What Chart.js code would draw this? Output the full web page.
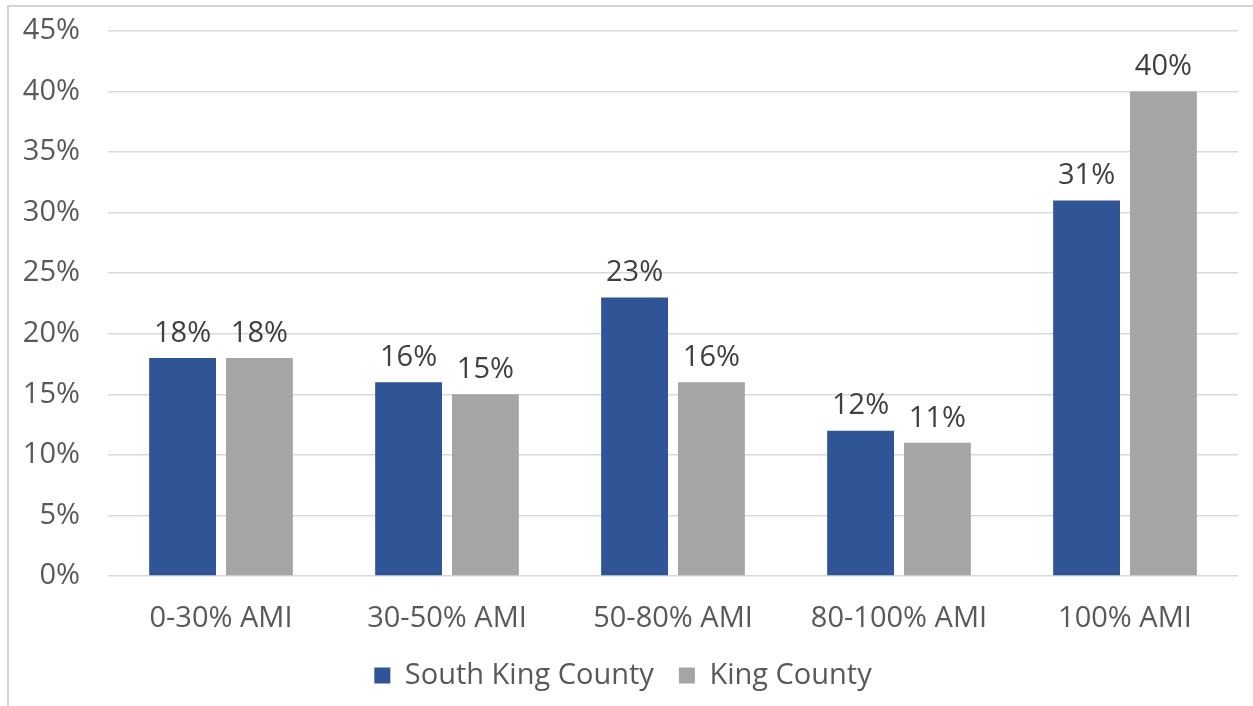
<!DOCTYPE html>
<html>
<head>
<meta charset="utf-8">
<script src="https://cdn.jsdelivr.net/npm/chart.js@4/dist/chart.umd.min.js"></script>
<style>
  html, body { margin: 0; padding: 0; background: #fff; }
  #wrap { position: relative; width: 1253px; height: 706px; }
  #frame { position: absolute; left: 7px; top: 5px; right: -2px; bottom: -2px;
           border-left: 2px solid #d4d4d4; border-top: 2px solid #d4d4d4; }
  canvas { position: absolute; left: 0; top: 0; }
</style>
</head>
<body>
<div id="wrap">
  <div id="frame"></div>
  <canvas id="chartAmi" width="1253" height="706"></canvas>
</div>
<script>
//* DATOS
const categorias = ['0-30% AMI', '30-50% AMI', '50-80% AMI', '80-100% AMI', '100% AMI'];
const southKing = [18, 16, 23, 12, 31];
const kingCounty = [18, 15, 16, 11, 40];
const ticksY = [0, 5, 10, 15, 20, 25, 30, 35, 40, 45];

const fuente = "'Open Sans', 'Liberation Sans', sans-serif";

// etiquetas encima de cada barra
const etiquetas = {
    id: 'etiquetas',
    afterDatasetsDraw(chart) {
        const ctx = chart.ctx;
        ctx.save();
        ctx.font = '29px ' + fuente;
        ctx.fillStyle = '#404040';
        ctx.textAlign = 'center';
        ctx.textBaseline = 'bottom';
        chart.data.datasets.forEach((ds, i) => {
            chart.getDatasetMeta(i).data.forEach((bar, j) => {
                ctx.fillText(ds.data[j] + '%', bar.x, bar.y - 10);
            });
        });
        ctx.restore();
    }
};

new Chart(document.getElementById('chartAmi'), {
    type: 'bar',
    data: {
        labels: categorias,
        datasets: [{
            label: 'South King County',
            data: southKing,
            backgroundColor: '#2F5597'
        }, {
            label: 'King County',
            data: kingCounty,
            backgroundColor: '#A5A5A5'
        }]
    },
    options: {
        responsive: false,
        animation: false,
        categoryPercentage: 0.68,
        barPercentage: 0.87,
        layout: { padding: { left: 8, right: 15, top: 31, bottom: 6 } },
        plugins: {
            legend: {
                position: 'bottom',
                labels: {
                    boxWidth: 16,
                    boxHeight: 16,
                    padding: 25,
                    color: '#595959',
                    font: { family: fuente, size: 29 }
                }
            },
            tooltip: { enabled: false }
        },
        scales: {
            x: {
                afterFit(s) { s.height = 60; },
                grid: { display: false },
                border: { display: false },
                ticks: { color: '#595959', padding: 17, font: { family: fuente, size: 29 } }
            },
            y: {
                min: 0,
                max: 45,
                afterFit(s) { s.width = 100; s.paddingTop = 0; s.paddingBottom = 0; },
                afterBuildTicks(s) { s.ticks = ticksY.map(v => ({ value: v })); },
                grid: { color: '#d9d9d9', lineWidth: 1.5, drawTicks: false },
                border: { display: false },
                ticks: {
                    color: '#595959',
                    padding: 28,
                    font: { family: fuente, size: 29 },
                    callback: v => v + '%'
                }
            }
        }
    },
    plugins: [etiquetas]
});
</script>
</body>
</html>
